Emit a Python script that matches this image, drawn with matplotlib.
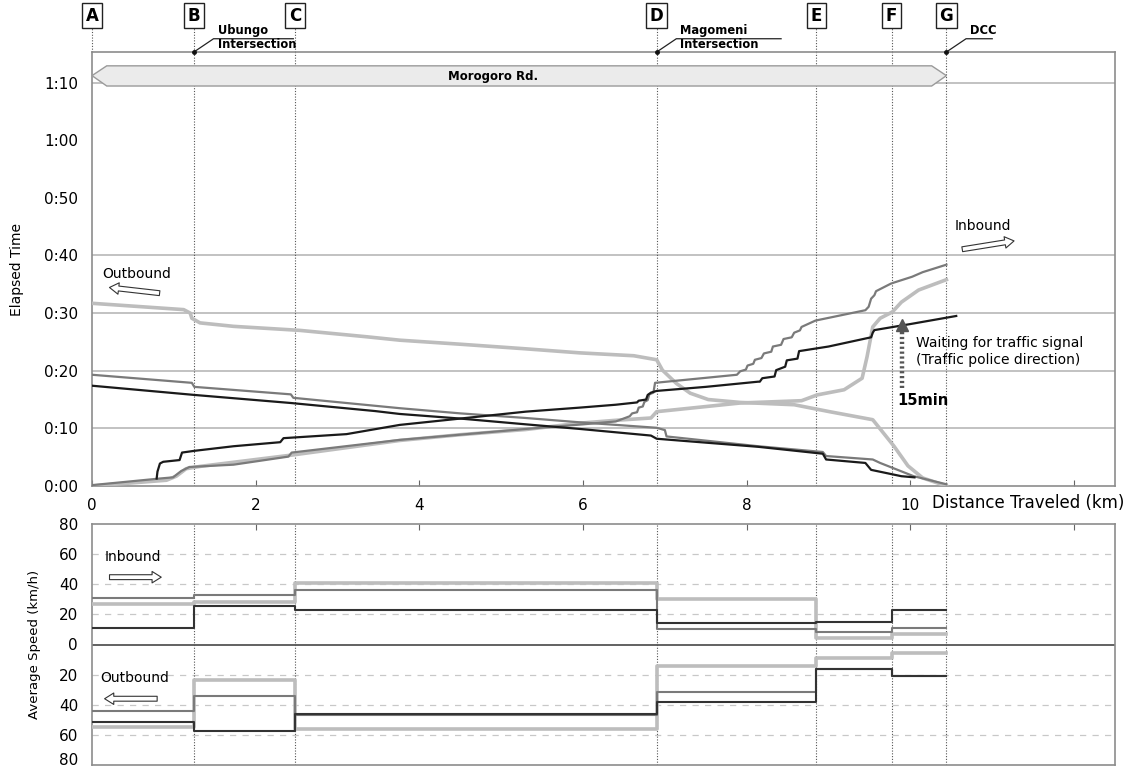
import numpy as np
import matplotlib
matplotlib.use('Agg')
import matplotlib.pyplot as plt
from matplotlib.patches import Polygon
import matplotlib.transforms as mtransforms

plt.rcParams['font.family'] = ['DejaVu Sans']

# 区间分界点 (km)
pt_names = ['A', 'B', 'C', 'D', 'E', 'F', 'G']
pt_km = [0.0, 1.245, 2.48, 6.9, 8.85, 9.77, 10.44]

# 累计时间曲线 (km, min)  -- 进城 Inbound
in_black_km = [0.79, 0.80, 0.83, 0.87, 1.07, 1.10, 1.25, 1.73, 2.30, 2.34, 3.11, 3.76, 4.5, 5.3,
               5.96, 6.40, 6.66, 6.68, 6.77, 6.79, 6.83, 6.90, 7.5, 8.14, 8.16, 8.19, 8.34, 8.36,
               8.47, 8.49, 8.62, 8.64, 9.0, 9.52, 9.54, 9.56, 10.0, 10.56]
in_black_min = [1.3, 2.5, 3.9, 4.2, 4.5, 5.8, 6.1, 6.9, 7.6, 8.3, 9.0, 10.6, 11.7, 12.9,
                13.6, 14.1, 14.5, 14.8, 15.0, 15.8, 16.2, 16.5, 17.2, 18.1, 18.1, 18.7, 19.0, 20.1,
                20.7, 21.8, 22.1, 23.4, 24.2, 25.8, 26.6, 27.05, 28.1, 29.5]

in_dgray_km = [0.0, 0.83, 0.99, 1.09, 1.19, 1.73, 2.40, 2.44, 3.76, 4.5, 5.3, 6.0, 6.4, 6.57,
               6.60, 6.66, 6.68, 6.73, 6.75, 6.79, 6.81, 6.86, 6.88, 7.88, 7.92, 7.99, 8.01,
               8.08, 8.10, 8.18, 8.21, 8.30, 8.32, 8.42, 8.45, 8.55, 8.58, 8.65, 8.67, 8.84,
               9.45, 9.49, 9.52, 9.56, 9.58, 9.76, 9.80, 10.02, 10.15, 10.44]
in_dgray_min = [0.15, 1.3, 1.5, 2.6, 3.3, 3.7, 5.1, 5.8, 8.0, 8.9, 9.9, 10.7, 11.2, 12.1,
                12.6, 12.8, 13.6, 13.8, 14.6, 14.9, 15.9, 16.2, 17.9, 19.3, 19.9, 20.2, 20.9,
                21.2, 21.9, 22.2, 23.0, 23.3, 24.2, 24.5, 25.5, 25.8, 26.6, 27.0, 27.6, 28.7,
                30.5, 31.1, 32.5, 33.1, 33.8, 35.1, 35.3, 36.3, 37.1, 38.4]

in_lgray_km = [0.0, 0.91, 1.03, 1.15, 1.32, 2.46, 3.76, 4.5, 5.3, 5.96, 6.4, 6.83, 6.90, 7.92,
               8.67, 8.86, 9.19, 9.41, 9.47, 9.54, 9.63, 9.78, 9.89, 10.1, 10.44]
in_lgray_min = [0.0, 1.0, 1.7, 3.0, 3.4, 5.4, 7.9, 8.9, 9.8, 10.9, 11.4, 11.8, 12.9, 14.4,
                14.8, 15.8, 16.7, 18.7, 22.4, 27.6, 29.1, 30.2, 31.9, 34.0, 35.8]

# 出城 Outbound
out_black_km = [0.0, 1.25, 2.43, 3.46, 3.76, 4.5, 5.3, 5.96, 6.83, 6.90, 8.14, 8.93, 8.97,
                9.45, 9.52, 9.89, 10.05]
out_black_min = [17.4, 15.8, 14.4, 13.0, 12.5, 11.7, 10.7, 9.9, 8.75, 8.2, 6.8, 5.6, 4.6,
                 4.0, 2.8, 1.7, 1.5]

out_dgray_km = [0.0, 1.22, 1.25, 2.43, 2.46, 3.76, 4.5, 5.3, 5.96, 6.90, 7.0, 7.02, 8.14,
                8.93, 8.97, 9.54, 9.63, 10.04, 10.44]
out_dgray_min = [19.3, 17.9, 17.2, 15.9, 15.3, 13.5, 12.6, 11.8, 11.05, 10.1, 9.7, 8.6, 6.9,
                 5.9, 5.2, 4.6, 4.0, 1.7, 0.3]

out_lgray_km = [0.0, 1.12, 1.20, 1.22, 1.32, 1.73, 2.54, 3.35, 3.76, 4.5, 5.3, 5.96, 6.62,
                6.90, 6.97, 7.14, 7.31, 7.53, 7.92, 8.58, 9.01, 9.54, 9.67, 9.80, 9.97, 10.15,
                10.44]
out_lgray_min = [31.7, 30.6, 30.0, 29.1, 28.3, 27.7, 27.0, 25.9, 25.3, 24.6, 23.8, 23.1, 22.6,
                 21.9, 20.1, 17.8, 16.1, 15.0, 14.5, 14.1, 12.9, 11.5, 9.2, 6.9, 3.5, 1.4, 0.0]

# 平均速度 (km/h) 各区间 A-B ... F-G
spd_in_black = [11, 25.5, 23, 14.4, 15, 23]
spd_in_dgray = [31, 33, 36, 10.4, 8.2, 11]
spd_in_lgray = [27, 28, 40.5, 30, 4, 6.7]
spd_out_black = [51.6, 57.1, 46, 38.4, 16.2, 21.1]
spd_out_dgray = [44.4, 34.4, 47, 31.6, 16.5, 21.1]
spd_out_lgray = [55, 23.8, 56, 14.4, 8.9, 5.6]

c_black = '#1a1a1a'
c_dgray = '#7a7a7a'
c_lgray = '#bdbdbd'
c_frame = '#8c8c8c'

fig = plt.figure(figsize=(11.4, 7.69), dpi=100)
W, H = 1140.0, 769.0
ax1 = fig.add_axes([92/W, 1-486/H, (1115-92)/W, (486-52)/H])
ax2 = fig.add_axes([92/W, 1-765/H, (1115-92)/W, (765-524)/H])

# ---------------- 上图: 累计时间 ----------------
ax1.set_xlim(0, 12.5)
ax1.set_ylim(0, 75.3)
for y in [10, 20, 30, 40, 70]:
    ax1.axhline(y, color='#b8b8b8', lw=1.2, zorder=1)
for k in pt_km[1:]:
    ax1.axvline(k, color='#555555', lw=0.8, ls=(0, (1, 1.5)), zorder=2)

ax1.plot(out_lgray_km, out_lgray_min, color=c_lgray, lw=2.6, zorder=3)
ax1.plot(in_lgray_km, in_lgray_min, color=c_lgray, lw=2.6, zorder=3)
ax1.plot(out_dgray_km, out_dgray_min, color=c_dgray, lw=1.6, zorder=4)
ax1.plot(in_dgray_km, in_dgray_min, color=c_dgray, lw=1.6, zorder=4)
ax1.plot(out_black_km, out_black_min, color=c_black, lw=1.6, zorder=5)
ax1.plot(in_black_km, in_black_min, color=c_black, lw=1.6, zorder=5)

# Morogoro Rd. 路段条
road = Polygon([[0, 71.2], [0.18, 72.9], [10.26, 72.9], [10.44, 71.2], [10.26, 69.4], [0.18, 69.4]],
               closed=True, fc='#ebebeb', ec='#9a9a9a', lw=1.0, zorder=6)
ax1.add_patch(road)
ax1.text(4.9, 71.1, 'Morogoro Rd.', ha='center', va='center', fontsize=8.5, fontweight='bold', zorder=7)

ax1.set_xticks([0, 2, 4, 6, 8, 10, 12])
ax1.set_xticklabels(['0', '2', '4', '6', '8', '10', ''])
ax1.set_yticks(np.arange(0, 80, 10))
ax1.set_yticklabels(['0:00', '0:10', '0:20', '0:30', '0:40', '0:50', '1:00', '1:10'])
ax1.tick_params(axis='x', direction='in', length=4, pad=9, labelsize=11, color='#666666')
ax1.tick_params(axis='y', length=0, pad=10, labelsize=11)
ax1.set_ylabel('Elapsed Time', fontsize=10)
ax1.yaxis.set_label_coords(-0.066, 0.5)
for s in ax1.spines.values():
    s.set_color(c_frame)
    s.set_linewidth(1.2)

# 顶部字母框与虚线
for name, k in zip(pt_names, pt_km):
    ax1.plot([k, k], [75.3, 79.4], color='#555555', lw=0.8, ls=(0, (1, 1.5)), clip_on=False)
    ax1.text(k, 81.6, name, ha='center', va='center', fontsize=12, fontweight='bold',
             bbox=dict(boxstyle='square,pad=0.22', fc='white', ec='#222222', lw=1.0))

# 交叉口标注
marks = [(pt_km[1], ['Ubungo', 'Intersection'], 2.46),
         (pt_km[3], ['Magomeni', 'Intersection'], 8.42),
         (pt_km[6], ['DCC'], 11.0)]
for k, lines, xend in marks:
    ax1.plot([k], [75.3], 'o', color='#111111', ms=2.5, clip_on=False, zorder=8)
    ax1.plot([k, k + 0.24, xend], [75.3, 77.6, 77.6], color='#222222', lw=0.9, clip_on=False)
    ax1.text(k + 0.29, 79.1, lines[0], fontsize=8.3, fontweight='bold', va='center')
    if len(lines) == 2:
        ax1.text(k + 0.29, 76.6, lines[1], fontsize=8.3, fontweight='bold', va='center')

arrow_style = 'simple,head_length=0.6,head_width=0.75,tail_width=0.32'
ax1.text(0.12, 36.8, 'Outbound', fontsize=10, va='center')
ax1.annotate('', xy=(0.18, 34.5), xytext=(0.86, 33.4),
             arrowprops=dict(arrowstyle=arrow_style, fc='white', ec='#333333', lw=0.8, mutation_scale=11))
ax1.text(10.54, 45.1, 'Inbound', fontsize=10, va='center')
ax1.annotate('', xy=(11.3, 42.6), xytext=(10.6, 41.0),
             arrowprops=dict(arrowstyle=arrow_style, fc='white', ec='#333333', lw=0.8, mutation_scale=11))

# 等信号灯 15 min
ax1.plot([9.9, 9.9], [17.0, 27.2], color='#555555', lw=3.2, ls=(0, (0.5, 0.6)), zorder=6)
ax1.plot([9.9], [27.9], marker='^', color='#555555', ms=9, zorder=6)
ax1.text(10.07, 24.8, 'Waiting for traffic signal', fontsize=10, va='center')
ax1.text(10.07, 21.9, '(Traffic police direction)', fontsize=10, va='center')
ax1.text(10.15, 14.9, '15min', fontsize=10.5, fontweight='bold', ha='center', va='center')

fig.text(932/W, 1-503/H, 'Distance Traveled (km)', fontsize=12, va='center', ha='left')

# ---------------- 下图: 平均速度 ----------------
ax2.set_xlim(0, 12.5)
ax2.set_ylim(-80, 80)
for y in [-60, -40, -20, 20, 40, 60]:
    ax2.axhline(y, color='#c8c8c8', lw=0.9, ls=(0, (5, 5)), zorder=1)
ax2.axhline(0, color='#555555', lw=1.3, zorder=2)
for k in pt_km[1:]:
    ax2.axvline(k, color='#555555', lw=0.8, ls=(0, (1, 1.5)), zorder=2)

def seg(v):
    return list(v) + [v[-1]]

ax2.step(pt_km, seg(spd_in_lgray), where='post', color=c_lgray, lw=2.6, zorder=3)
ax2.step(pt_km, [-v for v in seg(spd_out_lgray)], where='post', color=c_lgray, lw=2.6, zorder=3)
ax2.step(pt_km, seg(spd_in_dgray), where='post', color=c_dgray, lw=1.5, zorder=4)
ax2.step(pt_km, [-v for v in seg(spd_out_dgray)], where='post', color=c_dgray, lw=1.5, zorder=4)
ax2.step(pt_km, seg(spd_in_black), where='post', color='#333333', lw=1.5, zorder=5)
ax2.step(pt_km, [-v for v in seg(spd_out_black)], where='post', color='#333333', lw=1.5, zorder=5)

ax2.set_xticks([2, 4, 6, 8, 10, 12])
ax2.tick_params(axis='x', direction='in', length=4, top=True, bottom=False,
                labelbottom=False, color='#666666')
ax2.set_yticks(np.arange(-80, 81, 20))
spd_labels = [str(abs(v)) for v in range(-80, 81, 20)]
ax2.set_yticklabels([''] + spd_labels[1:])
ax2.tick_params(axis='y', length=0, pad=10, labelsize=11)
# 最下面的 80 贴着图边, 单独放
ax2.text(-0.0137, -80, spd_labels[0], fontsize=11, ha='right', va='baseline',
         transform=mtransforms.blended_transform_factory(ax2.transAxes, ax2.transData))
ax2.set_ylabel('Average Speed (km/h)', fontsize=9.5)
ax2.yaxis.set_label_coords(-0.05, 0.5)
for s in ax2.spines.values():
    s.set_color(c_frame)
    s.set_linewidth(1.2)

ax2.text(0.16, 58, 'Inbound', fontsize=10, va='center')
ax2.annotate('', xy=(0.88, 44.7), xytext=(0.18, 44.7),
             arrowprops=dict(arrowstyle=arrow_style, fc='white', ec='#333333', lw=0.8, mutation_scale=11))
ax2.text(0.1, -22, 'Outbound', fontsize=10, va='center')
ax2.annotate('', xy=(0.12, -36), xytext=(0.83, -36),
             arrowprops=dict(arrowstyle=arrow_style, fc='white', ec='#333333', lw=0.8, mutation_scale=11))

fig.savefig('out.png', dpi=100)
